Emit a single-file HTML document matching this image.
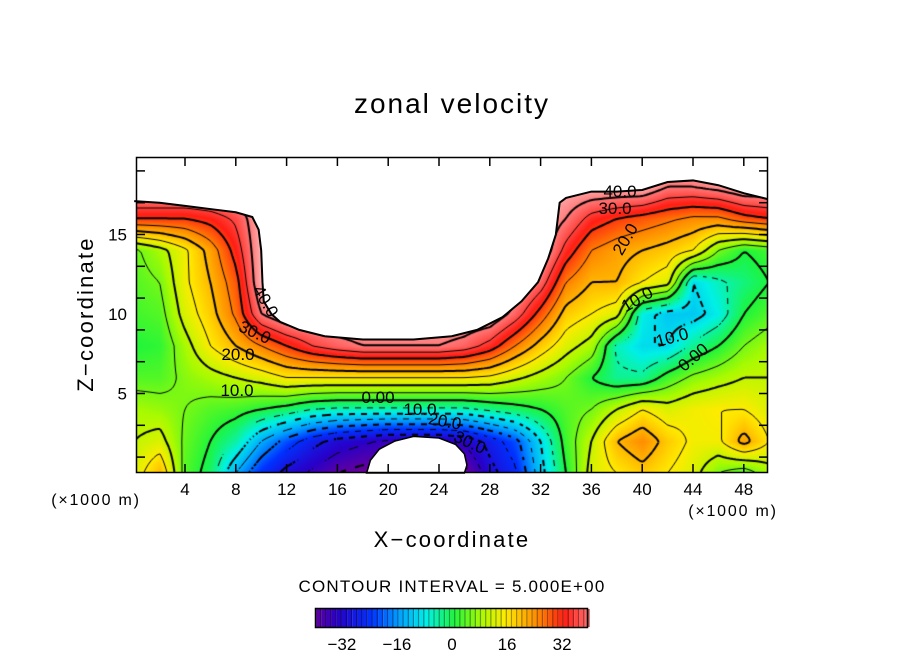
<!DOCTYPE html>
<html><head><meta charset="utf-8">
<style>
body{margin:0;background:#fff;}
#wrap{position:relative;width:904px;height:654px;overflow:hidden;background:#fff;font-family:"Liberation Sans",sans-serif;}
canvas{position:absolute;left:136px;top:157px;}
svg{position:absolute;left:0;top:0;}
</style></head>
<body>
<div id="wrap">
<canvas id="cv" width="632" height="315"></canvas>
<svg id="sv" width="904" height="654"></svg>
</div>
<script>
// grid coordinates (x in km, z in km)
const xCoords=[0,2,4,6,8,10,12,14,16,18,20,22,24,26,28,30,32,34,36,38,40,42,44,46,48,50];
const zCoords=[0,2,4,6,8,10,12,14,16,18,20];
// zonal velocity values, one row per z level (z=0 first)
const row0 =[12,20,3,-2,-15,-25,-32,-36,-40,-42,-42,-42,-42,-42,-32,-26,-12,0,12,15,18,15,12,5,2,8];
const row2 =[10,12,4,0,-5,-15,-22,-28,-32,-34,-36,-36,-36,-34,-28,-22,-10,2,10,20,24,18,14,14,22,15];
const row4 =[8,7,5,3,2,0,-2,-5,-6,-6,-6,-6,-6,-6,-4,-2,0,3,5,10,15,12,14,15,15,12];
const row6 =[3,3,6,8,10,12,15,15,15,15,15,15,15,15,14,11,8,5,0,-4,-4,2,6,8,10,10];
const row8 =[0,1,8,15,20,25,30,35,38,40,40,40,40,38,33,25,18,12,8,-6,-10,-10,-4,0,5,8];
const row10=[2,3,12,18,26,40,45,45,45,45,45,45,45,45,45,38,28,18,15,12,-8,-12,-12,-8,0,3];
const row12=[3,5,14,20,28,45,45,45,45,45,45,45,45,45,45,45,38,25,20,20,15,12,-10,-6,-3,0];
const row14=[4,8,14,22,32,45,45,45,45,45,45,45,45,45,45,45,45,33,25,22,20,18,15,5,0,2];
const row16=[30,30,30,32,36,45,45,45,45,45,45,45,45,45,45,45,45,40,33,30,28,26,24,24,28,30];
const row18=[45,45,45,45,45,45,45,45,45,45,45,45,45,45,45,45,45,45,45,45,45,40,40,42,45,45];
const row20=[45,45,45,45,45,45,45,45,45,45,45,45,45,45,45,45,45,45,45,45,45,45,45,45,45,45];
const rows=[row0,row2,row4,row6,row8,row10,row12,row14,row16,row18,row20];
// domain boundaries
const topX=[0,2,4,6,8,9.3,9.8,10,10.1,10.2,10.8,11.5,13,15,18,22,25,27,29,30.5,31.8,32.6,33.2,33.5,34,36,38,40,42,44,46,48,50];
const topZ=[17.1,17.0,16.8,16.6,16.4,16.1,15.3,14,12,10.8,10,9.5,9.0,8.6,8.4,8.4,8.6,9.0,9.8,10.8,12,13.5,15,17.0,17.3,17.7,17.7,17.8,18.3,18.4,18.1,17.6,17.2];
const holeX=[18.3,18.6,19.3,20.5,22,24,25.3,26,26.2,26];
const holeZ=[0,0.8,1.5,2.0,2.3,2.2,1.8,1.2,0.5,0];
// color bar ticks
const cbTicks=[-32,-16,0,16,32];
const levels=[-40,-35,-30,-25,-20,-15,-10,-5,0,5,10,15,20,25,30,35,40];
const xTicks=[4,8,12,16,20,24,28,32,36,40,44,48];
const yTicks=[5,10,15];

const X=v=>134.2+12.7*v, Z=v=>473-15.9*v;
const stops=[[-42,[110,0,150]],[-34,[40,0,200]],[-24,[0,50,255]],[-16,[0,160,255]],[-8,[0,240,230]],[0,[30,245,60]],[8,[170,250,0]],[15,[255,235,0]],[24,[255,140,0]],[32,[255,30,20]],[40,[255,120,120]],[46,[255,190,190]]];
function col(v){
  if(v<=stops[0][0])return stops[0][1];
  for(let i=1;i<stops.length;i++){if(v<=stops[i][0]){const a=stops[i-1],b=stops[i],t=(v-a[0])/(b[0]-a[0]);return a[1].map((c,k)=>Math.round(c+(b[1][k]-c)*t));}}
  return stops[stops.length-1][1];
}
function field(x,z){
  x=Math.max(0,Math.min(49.999,x));z=Math.max(0,Math.min(19.999,z));
  const i=Math.floor(x/2),j=Math.floor(z/2),tx=x/2-i,tz=z/2-j;
  const a=rows[j][i],b=rows[j][i+1],c=rows[j+1][i],d=rows[j+1][i+1];
  return a*(1-tx)*(1-tz)+b*tx*(1-tz)+c*(1-tx)*tz+d*tx*tz;
}
const cv=document.getElementById('cv'),ctx=cv.getContext('2d');
const W=cv.width,H=cv.height,img=ctx.createImageData(W,H);
for(let py=0;py<H;py++)for(let px=0;px<W;px++){
  const x=(px+136-134.2)/12.7,z=(473-(py+157))/15.9;
  const c=col(field(x,z)),k=(py*W+px)*4;
  img.data[k]=c[0];img.data[k+1]=c[1];img.data[k+2]=c[2];img.data[k+3]=255;
}
ctx.putImageData(img,0,0);
// contour lines (marching squares)
const S=3,NX=Math.ceil(W/S)+1,NY=Math.ceil(H/S)+1,G=[];
for(let j=0;j<NY;j++){G[j]=[];for(let i=0;i<NX;i++){G[j][i]=field((i*S+136-134.2)/12.7,(473-(j*S+157))/15.9);}}
levels.forEach(L=>{
  ctx.beginPath();
  for(let j=0;j<NY-1;j++)for(let i=0;i<NX-1;i++){
    if(L<0&&(((i+j)>>1)%2))continue;
    const v=[G[j][i],G[j][i+1],G[j+1][i+1],G[j+1][i]];
    const P=[[i,j],[i+1,j],[i+1,j+1],[i,j+1]];const pts=[];
    for(let e=0;e<4;e++){const a=v[e],b=v[(e+1)%4];if((a<L)!==(b<L)){const t=(L-a)/(b-a),p=P[e],q=P[(e+1)%4];pts.push([(p[0]+(q[0]-p[0])*t)*S,(p[1]+(q[1]-p[1])*t)*S]);}}
    for(let k=0;k+1<pts.length;k+=2){ctx.moveTo(pts[k][0],pts[k][1]);ctx.lineTo(pts[k+1][0],pts[k+1][1]);}
  }
  ctx.lineWidth=(L%10===0)?2:1;ctx.strokeStyle='#000';ctx.stroke();
});
const NS='http://www.w3.org/2000/svg',sv=document.getElementById('sv');
function mk(t,a,txt){const e=document.createElementNS(NS,t);for(const k in a)e.setAttribute(k,a[k]);if(txt!==undefined)e.textContent=txt;sv.appendChild(e);return e;}
// top white mask
let d='M'+X(0)+','+Z(20);
topX.forEach((x,i)=>{d+=' L'+X(x)+','+Z(topZ[i]);});
d+=' L'+X(50)+','+Z(20)+' Z';
let e=mk('path',{d:d,fill:'#fff',stroke:'none'});


let d2='M'+topX.map((x,i)=>X(x)+','+Z(topZ[i])).join(' L');
e=mk('path',{d:d2,fill:'none',stroke:'#000','stroke-width':2});


let d3='M'+holeX.map((x,i)=>X(x)+','+Z(holeZ[i])).join(' L')+' Z';
e=mk('path',{d:d3,fill:'#fff',stroke:'#000','stroke-width':1.5});


// white margins outside frame
mk('rect',{x:0,y:0,width:904,height:157,fill:'#fff'});
mk('rect',{x:768,y:150,width:136,height:330,fill:'#fff'});
// frame
e=mk('rect',{x:136.5,y:157.5,width:631,height:315,fill:'none',stroke:'#000','stroke-width':1.5});


xTicks.forEach(v=>{
  mk('line',{x1:X(v),x2:X(v),y1:472,y2:464,stroke:'#000','stroke-width':1.5});
  mk('line',{x1:X(v),x2:X(v),y1:158,y2:166,stroke:'#000','stroke-width':1.5});
  const t=mk('text',{x:X(v),y:495,'font-size':17,'text-anchor':'middle'},String(v));
  
  
});
for(let v=1;v<20;v+=2){mk('line',{x1:137,x2:145,y1:Z(v),y2:Z(v),stroke:'#000','stroke-width':1.5});mk('line',{x1:767,x2:759,y1:Z(v),y2:Z(v),stroke:'#000','stroke-width':1.5});}
yTicks.forEach(v=>{
  const t=mk('text',{x:127,y:Z(v)+6,'font-size':17,'text-anchor':'end'},String(v));
  
  
});
// contour labels
const labs=[["40.0",266,307,60],["30.0",255,338,25],["20.0",238,360,0],["10.0",237,396,0],["0.00",378,403,0],["10.0",420,415,0],["20.0",445,427,10],["30.0",470,448,25],["40.0",620,197,0],["30.0",615,214,0],["20.0",625,245,-60],["10.0",637,305,-30],["10.0",672,343,-15],["0.00",693,363,-40]];
labs.forEach(l=>{
  const t=mk('text',{x:l[1],y:l[2],'font-size':17,'text-anchor':'middle',transform:'rotate('+l[3]+' '+l[1]+' '+(l[2]-6)+')'},l[0]);
  
  
});
// colorbar
const cbX=v=>452+3.44*v;
for(let v=-39.5;v<39.5;v+=1.5){
  const c=col(v);
  const r=mk('rect',{x:cbX(v),y:609,width:5.16,height:18,fill:'rgb('+c.join(',')+')'});
  
  
  mk('rect',{x:cbX(v)+3.8,y:609,width:1.4,height:18,fill:'rgba(0,0,0,0.35)'});
}
e=mk('rect',{x:315.5,y:608.5,width:272,height:19,fill:'none',stroke:'#000','stroke-width':1.5});


cbTicks.forEach(v=>{
  const t=mk('text',{x:cbX(v),y:650,'font-size':17,'text-anchor':'middle'},(v<0?'\u2212'+(-v):String(v)));
  
  
});
</script>
<svg width="904" height="654" style="position:absolute;left:0;top:0;pointer-events:none">
<text x="452" y="113" font-size="28" letter-spacing="2" text-anchor="middle" font-family="Liberation Sans,sans-serif">zonal velocity</text>
<text x="452" y="547" font-size="22" letter-spacing="2.2" text-anchor="middle" font-family="Liberation Sans,sans-serif">X−coordinate</text>
<text x="0" y="0" font-size="22" letter-spacing="2.2" text-anchor="middle" font-family="Liberation Sans,sans-serif" transform="translate(93,314) rotate(-90)">Z−coordinate</text>
<text x="96" y="505" font-size="16" letter-spacing="1.8" text-anchor="middle" font-family="Liberation Sans,sans-serif">(×1000 m)</text>
<text x="733" y="516" font-size="16" letter-spacing="1.8" text-anchor="middle" font-family="Liberation Sans,sans-serif">(×1000 m)</text>
<text x="452" y="592" font-size="17" letter-spacing="1.2" text-anchor="middle" font-family="Liberation Sans,sans-serif">CONTOUR INTERVAL = 5.000E+00</text>
</svg>
</body></html>
